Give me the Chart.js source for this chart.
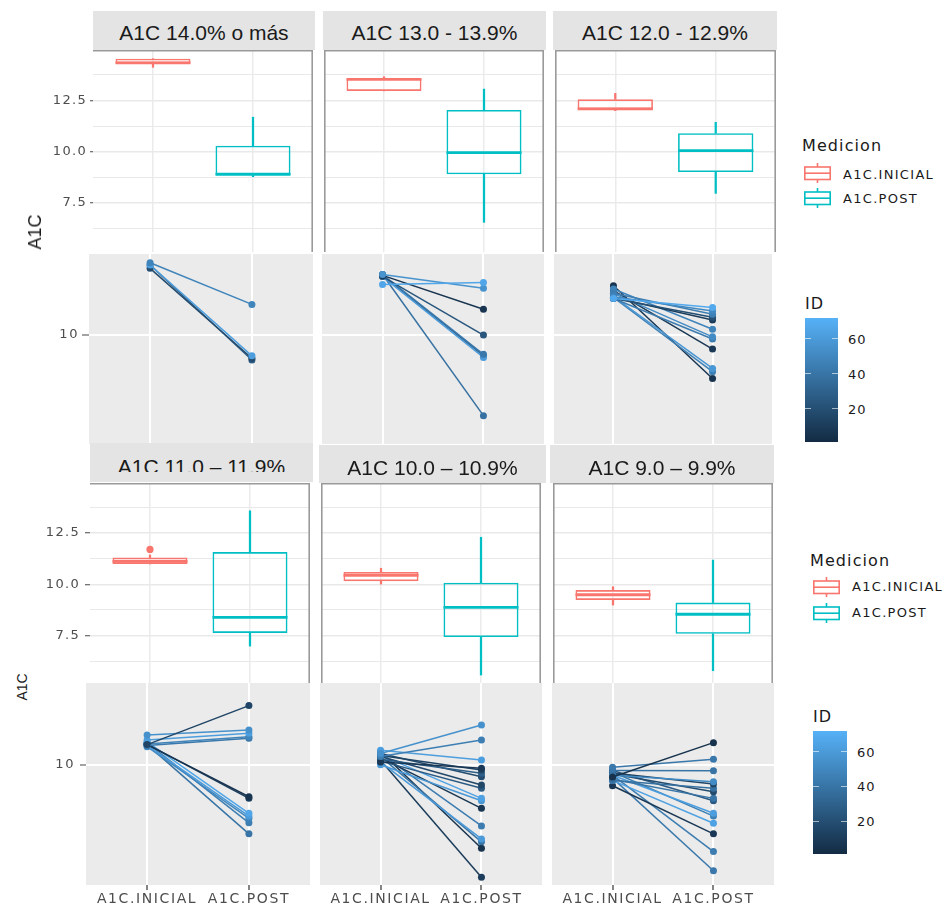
<!DOCTYPE html>
<html lang="es">
<head>
<meta charset="utf-8">
<title>A1C inicial vs post</title>
<script src="https://cdn.jsdelivr.net/npm/chart.js@4.4.1/dist/chart.umd.min.js"></script>
<style>
  html, body { margin: 0; padding: 0; background: #fff; }
  #fig { position: relative; width: 947px; height: 905px; overflow: hidden; font-family: 'DejaVu Sans', sans-serif; }
  #fig canvas { position: absolute; z-index: 1; }
  .strip { position: absolute; background: #e4e4e4; z-index: 3; overflow: hidden;
           font-family: 'Liberation Sans', Arial, sans-serif; font-size: 21px; color: #1a1a1a; text-align: center; white-space: nowrap; }
  .strip .txt { position: absolute; left: 0; right: 0; }
  .strip .clip { position: absolute; left: 0; right: 0; top: 0; overflow: hidden; }
  .ytitle { position: absolute; z-index: 2; font-family: 'Liberation Sans', Arial, sans-serif; color: #1a1a1a;
            white-space: nowrap; line-height: 1; transform: translate(-50%, -50%) rotate(-90deg); }
  .leg { position: absolute; white-space: nowrap; color: #1a1a1a; line-height: 1; transform: translateY(-50%); }
  .bar { position: absolute; background: linear-gradient(to top, #132B43, #56B1F7); }
  .btick { position: absolute; height: 1px; width: 6px; background: rgba(255,255,255,0.6); }
</style>
</head>
<body>
<div id="fig"></div>
<script>
// categorias y titulos
const categories = ['A1C.INICIAL', 'A1C.POST'];
const groupTitles = ['A1C 14.0% o más', 'A1C 13.0 - 13.9%', 'A1C 12.0 - 12.9%',
                     'A1C 11.0 – 11.9%', 'A1C 10.0 – 10.9%', 'A1C 9.0 – 9.9%'];

// cajas: [min, q1, mediana, q3, max]
const boxInicial = [
    [14.11, 14.30, 14.33, 14.53, 14.53],
    [12.96, 12.96, 13.52, 13.57, 13.65],
    [12.00, 12.06, 12.09, 12.55, 12.84],
    [10.99, 10.99, 11.12, 11.30, 11.43],
    [10.01, 10.15, 10.44, 10.60, 10.78],
    [8.99, 9.24, 9.49, 9.72, 9.88]
];
const boxPost = [
    [8.78, 8.86, 8.90, 10.29, 11.68],
    [6.56, 8.90, 9.95, 12.03, 13.05],
    [7.97, 9.01, 10.05, 10.90, 11.43],
    [6.99, 7.63, 8.39, 11.57, 13.58],
    [5.58, 7.43, 8.88, 10.08, 12.29],
    [5.79, 7.59, 8.54, 9.11, 11.18]
];
const outInicial = [[], [], [], [11.70], [], []];
const outPost = [[], [], [], [], [], []];

// lineas por paciente
const lineInicial = [
    [14.48, 14.31, 14.07, 14.31],
    [12.96, 13.63, 13.57, 13.49, 13.63, 13.49, 13.57, 13.63],
    [12.06, 12.17, 12.38, 12.06, 12.12, 12.66, 12.38, 12.06, 12.55, 12.17, 12.12, 12.87],
    [11.10, 11.66, 11.37, 11.13, 11.05, 11.10, 11.13, 11.25, 11.05, 10.98, 11.20, 11.10],
    [10.60, 10.44, 10.78, 10.15, 10.50, 10.30, 10.60, 10.44, 10.20, 10.52, 10.01, 10.38, 10.60, 10.15, 10.44, 10.70, 10.25],
    [9.40, 9.88, 9.72, 9.49, 9.60, 9.24, 9.55, 9.30, 9.72, 9.49, 9.65, 9.24, 8.99, 9.49, 9.35]
];
const linePost = [
    [11.70, 8.99, 8.88, 8.80],
    [13.09, 12.70, 11.41, 10.00, 9.06, 8.92, 9.00, 6.62],
    [11.52, 11.31, 11.12, 10.95, 10.80, 10.30, 9.91, 9.80, 9.31, 8.43, 8.29, 8.01],
    [13.55, 11.96, 11.76, 11.56, 11.47, 8.50, 8.43, 7.81, 7.70, 7.61, 7.44, 7.03],
    [12.27, 11.36, 10.26, 9.83, 9.75, 9.58, 9.42, 9.03, 8.88, 8.43, 8.33, 8.01, 7.32, 6.85, 6.75, 6.53, 5.63],
    [11.21, 10.30, 9.71, 9.18, 9.07, 8.88, 8.72, 8.43, 8.33, 7.81, 7.70, 7.42, 7.03, 6.42, 5.82]
];
const lineId = [
    [48, 62, 18, 26],
    [66, 56, 6, 24, 42, 60, 30, 38],
    [68, 50, 45, 20, 10, 48, 52, 44, 8, 58, 46, 6],
    [15, 55, 62, 48, 42, 6, 12, 66, 60, 50, 45, 40],
    [55, 45, 62, 8, 14, 28, 18, 16, 26, 64, 58, 7, 44, 60, 40, 5, 10],
    [5, 42, 40, 52, 14, 38, 18, 40, 25, 62, 46, 64, 8, 44, 42]
];

// ejes
const boxGridValues = [6.25, 7.5, 8.75, 10, 11.25, 12.5, 13.75];
const boxTickLabels = [7.5, 10, 12.5];
const lineTickLabels = [10];
const idTickLabels = [20, 40, 60];
const idMin = 1, idMax = 72;

// rangos de los paneles (fila superior / inferior)
const boxRange = [[5.114, 14.953], [5.192, 14.934]];
const lineRange = [[5.727, 15.14], [5.412, 15.21]];

// colores
const colInicial = '#F8766D';
const colPost = '#00BFC4';
const lowRGB = [19, 43, 67];     // #132B43
const highRGB = [86, 177, 247];  // #56B1F7
const boxWidth = 0.75;

// posicion de cada panel: [x, y, ancho, alto]
const panels = [
    { strip: [93, 11, 222, 39], dy: 2, box: [93, 50, 220, 202], line: [89, 254, 224, 190] },
    { strip: [323, 11, 223, 39], dy: 2, box: [324, 50, 220, 202], line: [322, 254, 222, 190] },
    { strip: [553, 11, 224, 39], dy: 2, box: [555, 50, 221, 202], line: [554, 254, 218, 190] },
    { strip: [90, 443, 223, 39], dy: 3.5, clip: 29, box: [90, 483, 220, 200], line: [86, 683, 224, 202] },
    { strip: [319, 445, 227, 38], dy: 3.5, box: [321, 483, 220, 200], line: [320, 683, 222, 202] },
    { strip: [550, 445, 224, 38], dy: 3.5, box: [553, 483, 220, 200], line: [552, 683, 222, 202] }
];

const fig = document.getElementById('fig');
const tickFont = { family: 'DejaVu Sans', size: 13 };
const tickColor = '#4d4d4d';

function idColor(id) {
    const t = (id - idMin) / (idMax - idMin);
    const c = lowRGB.map((v, i) => Math.round(v + t * (highRGB[i] - v)));
    return `rgb(${c.join(',')})`;
}

function makeCanvas(x, y, w, h) {
    const c = document.createElement('canvas');
    c.width = w;
    c.height = h;
    c.style.left = x + 'px';
    c.style.top = y + 'px';
    fig.appendChild(c);
    return c;
}

function halfBox(ctx) {
    const x = ctx.chart.scales && ctx.chart.scales.x;
    if (!x) return 0;
    const r = x.getPixelForValue(1 + boxWidth / 2) - x.getPixelForValue(1);
    return isFinite(r) ? r : 0;
}

// fondo y borde del panel
const panelPlugin = {
    id: 'panel',
    beforeDraw(chart, args, opts) {
        const { ctx, chartArea: a } = chart;
        ctx.letterSpacing = opts.letterSpacing || '0px';
        ctx.save();
        ctx.fillStyle = opts.fill;
        ctx.fillRect(a.left, a.top, a.right - a.left, a.bottom - a.top);
        ctx.restore();
    },
    afterDraw(chart, args, opts) {
        if (!opts.sides) return;
        const { ctx, chartArea: a } = chart;
        const h = opts.borderWidth / 2;
        ctx.save();
        ctx.strokeStyle = opts.borderColor;
        ctx.lineWidth = opts.borderWidth;
        ctx.beginPath();
        if (opts.sides.includes('top')) { ctx.moveTo(a.left, a.top + h); ctx.lineTo(a.right, a.top + h); }
        if (opts.sides.includes('left')) { ctx.moveTo(a.left + h, a.top); ctx.lineTo(a.left + h, a.bottom); }
        if (opts.sides.includes('right')) { ctx.moveTo(a.right - h, a.top); ctx.lineTo(a.right - h, a.bottom); }
        ctx.stroke();
        ctx.restore();
    }
};

function xScale(gridColor, gridWidth, showLabels) {
    return {
        type: 'linear', min: 0.4, max: 2.6, bounds: 'data', offset: false,
        afterBuildTicks: s => { s.ticks = categories.map((c, i) => ({ value: i + 1 })); },
        afterFit: s => { s.height = showLabels ? 20 : 0; s.paddingLeft = 0; s.paddingRight = 0; },
        border: { display: false },
        grid: { color: gridColor, lineWidth: gridWidth, offset: false, drawTicks: showLabels,
                tickLength: 5, tickColor: '#333', tickWidth: 1.2 },
        ticks: { display: showLabels, callback: v => categories[v - 1], font: { family: 'DejaVu Sans', size: 14 },
                 color: tickColor, padding: 1, autoSkip: false, maxRotation: 0, minRotation: 0 }
    };
}

function boxChart(g, canvas, axisW, row, tickLen, tickPad) {
    const stats = [boxInicial[g], boxPost[g]];
    const cols = [colInicial, colPost];
    const pts = f => stats.map((s, i) => ({ x: i + 1, y: f(s) }));
    const sides = g % 3 === 0 ? ['top', 'right'] : ['top', 'left', 'right'];
    return new Chart(canvas, {
        type: 'scatter',
        data: {
            datasets: [
                { type: 'scatter', data: pts(s => s[2]), pointStyle: 'line', pointBorderColor: cols,
                  pointBorderWidth: 2.8, pointRadius: halfBox },
                { type: 'scatter', data: outInicial[g].map(v => ({ x: 1, y: v })), pointBackgroundColor: colInicial,
                  pointBorderWidth: 0, pointRadius: 3.6 },
                { type: 'scatter', data: outPost[g].map(v => ({ x: 2, y: v })), pointBackgroundColor: colPost,
                  pointBorderWidth: 0, pointRadius: 3.6 },
                { type: 'bar', data: pts(s => [s[1], s[3]]), backgroundColor: 'rgba(255,255,255,0)', borderColor: cols,
                  borderWidth: 1.6, borderSkipped: false, grouped: false, categoryPercentage: 1, barPercentage: boxWidth },
                { type: 'bar', data: pts(s => [s[0], s[1]]), backgroundColor: cols, borderWidth: 0, barThickness: 1.6, grouped: false },
                { type: 'bar', data: pts(s => [s[3], s[4]]), backgroundColor: cols, borderWidth: 0, barThickness: 1.6, grouped: false }
            ]
        },
        options: {
            responsive: false, animation: false, events: [],
            layout: { padding: 0, autoPadding: false },
            plugins: { legend: { display: false }, tooltip: { enabled: false },
                       panel: { fill: '#ffffff', sides: sides, borderColor: '#9a9a9a', borderWidth: 1.6, letterSpacing: '1.3px' } },
            scales: {
                x: xScale('#ebebeb', 1.5, false),
                y: {
                    type: 'linear', min: boxRange[row][0], max: boxRange[row][1], bounds: 'data', beginAtZero: false,
                    afterBuildTicks: s => { s.ticks = boxGridValues.map(v => ({ value: v })); },
                    afterFit: s => { s.width = axisW; s.paddingTop = 0; s.paddingBottom = 0; },
                    border: { display: false },
                    grid: {
                        color: '#e9e9e9',
                        lineWidth: ctx => (ctx.tick && boxTickLabels.includes(ctx.tick.value)) ? 1.4 : 1.0,
                        drawTicks: axisW > 0, tickLength: tickLen, tickWidth: 1.2,
                        tickColor: ctx => (ctx.tick && boxTickLabels.includes(ctx.tick.value)) ? '#666' : 'rgba(0,0,0,0)'
                    },
                    ticks: { display: axisW > 0, autoSkip: false, font: tickFont, color: tickColor, padding: tickPad,
                             callback: v => boxTickLabels.includes(v) ? v.toFixed(1) : '' }
                }
            }
        },
        plugins: [panelPlugin]
    });
}

function lineChart(g, canvas, axisW, row, withX, tickLen, tickPad) {
    const datasets = lineInicial[g].map((v, i) => {
        const c = idColor(lineId[g][i]);
        return {
            data: [{ x: 1, y: v }, { x: 2, y: linePost[g][i] }],
            showLine: true, borderColor: c, borderWidth: 1.5,
            pointBackgroundColor: c, pointBorderColor: c, pointBorderWidth: 0, pointRadius: 3.5
        };
    });
    return new Chart(canvas, {
        type: 'scatter',
        data: { datasets },
        options: {
            responsive: false, animation: false, events: [],
            layout: { padding: 0, autoPadding: false },
            plugins: { legend: { display: false }, tooltip: { enabled: false },
                       panel: { fill: '#ebebeb', letterSpacing: '1.6px' } },
            scales: {
                x: xScale('#ffffff', 2, withX),
                y: {
                    type: 'logarithmic', min: lineRange[row][0], max: lineRange[row][1], bounds: 'data',
                    afterBuildTicks: s => { s.ticks = lineTickLabels.map(v => ({ value: v })); },
                    afterFit: s => { s.width = axisW; s.paddingTop = 0; s.paddingBottom = 0; },
                    border: { display: false },
                    grid: { color: '#ffffff', lineWidth: 2, drawTicks: axisW > 0, tickLength: tickLen,
                            tickColor: '#666', tickWidth: 1.2 },
                    ticks: { display: axisW > 0, autoSkip: false, font: tickFont, color: tickColor, padding: tickPad,
                             callback: v => String(v) }
                }
            }
        },
        plugins: [panelPlugin]
    });
}

// paneles
const leftEdge = 40;
panels.forEach((p, g) => {
    const row = g < 3 ? 0 : 1;
    const isLeft = g % 3 === 0;

    // encabezado
    const [sx, sy, sw, sh] = p.strip;
    const strip = document.createElement('div');
    strip.className = 'strip';
    Object.assign(strip.style, { left: sx + 'px', top: sy + 'px', width: sw + 'px', height: sh + 'px' });
    const txt = document.createElement('div');
    txt.className = 'txt';
    Object.assign(txt.style, { top: p.dy + 'px', height: sh + 'px', lineHeight: sh + 'px' });
    txt.textContent = groupTitles[g];
    if (p.clip) {
        const clip = document.createElement('div');
        clip.className = 'clip';
        clip.style.height = p.clip + 'px';
        clip.appendChild(txt);
        strip.appendChild(clip);
    } else {
        strip.appendChild(txt);
    }
    fig.appendChild(strip);

    // cajas
    const [bx, by, bw, bh] = p.box;
    const bx0 = isLeft ? leftEdge : bx;
    const boxTicks = row === 0 ? [3, 3] : [5, 5];
    boxChart(g, makeCanvas(bx0, by, bx + bw - bx0, bh), bx - bx0, row, boxTicks[0], boxTicks[1]);

    // lineas
    const [lx, ly, lw, lh] = p.line;
    const lx0 = isLeft ? leftEdge : lx;
    const withX = row === 1;
    const lineTicks = row === 0 ? [7, 3] : [6, 5];
    lineChart(g, makeCanvas(lx0, ly, lx + lw - lx0, lh + (withX ? 20 : 0)), lx - lx0, row, withX, lineTicks[0], lineTicks[1]);
});

// titulos del eje y
[[35, 232, 18], [22, 687, 14]].forEach(([x, y, size]) => {
    const d = document.createElement('div');
    d.className = 'ytitle';
    Object.assign(d.style, { left: x + 'px', top: y + 'px', fontSize: size + 'px' });
    d.textContent = 'A1C';
    fig.appendChild(d);
});

// leyendas
function keySvg(color) {
    return `<svg width="27" height="20" viewBox="0 0 27 20">
      <line x1="13.5" y1="0" x2="13.5" y2="4" stroke="${color}" stroke-width="1.6"/>
      <rect x="0.8" y="4" width="25.4" height="12.5" fill="#fff" stroke="${color}" stroke-width="1.6"/>
      <line x1="0.8" y1="10.2" x2="26.2" y2="10.2" stroke="${color}" stroke-width="1.6"/>
      <line x1="13.5" y1="16.5" x2="13.5" y2="20" stroke="${color}" stroke-width="1.6"/>
    </svg>`;
}

function addText(x, y, text, size, spacing) {
    const d = document.createElement('div');
    d.className = 'leg';
    Object.assign(d.style, { left: x + 'px', top: y + 'px', fontSize: size + 'px', letterSpacing: spacing + 'px' });
    d.textContent = text;
    fig.appendChild(d);
}

const legends = [
    { title: [802, 146], keys: [[804, 163], [804, 188]], labels: [[843, 173.5], [843, 198]],
      idTitle: [805, 304], bar: [805, 317.7, 33, 124], idLabelX: 848 },
    { title: [810, 561], keys: [[813, 576.5], [813, 602.5]], labels: [[852, 586], [852, 611.5]],
      idTitle: [813, 716.5], bar: [813, 731, 34, 123], idLabelX: 857 }
];

legends.forEach(L => {
    addText(L.title[0], L.title[1], 'Medicion', 16, 1.1);
    [colInicial, colPost].forEach((c, i) => {
        const k = document.createElement('div');
        k.style.position = 'absolute';
        k.style.left = L.keys[i][0] + 'px';
        k.style.top = L.keys[i][1] + 'px';
        k.style.lineHeight = '0';
        k.innerHTML = keySvg(c);
        fig.appendChild(k);
        addText(L.labels[i][0], L.labels[i][1], categories[i], 13, 1.3);
    });

    addText(L.idTitle[0], L.idTitle[1], 'ID', 16, 1);
    const [x, y, w, h] = L.bar;
    const bar = document.createElement('div');
    bar.className = 'bar';
    Object.assign(bar.style, { left: x + 'px', top: y + 'px', width: w + 'px', height: h + 'px' });
    fig.appendChild(bar);
    idTickLabels.forEach(v => {
        const ty = y + h - (v - idMin) / (idMax - idMin) * h;
        [x, x + w - 6].forEach(tx => {
            const t = document.createElement('div');
            t.className = 'btick';
            Object.assign(t.style, { left: tx + 'px', top: (ty - 0.5) + 'px' });
            fig.appendChild(t);
        });
        addText(L.idLabelX, ty, String(v), 13, 1);
    });
});
</script>
</body>
</html>
